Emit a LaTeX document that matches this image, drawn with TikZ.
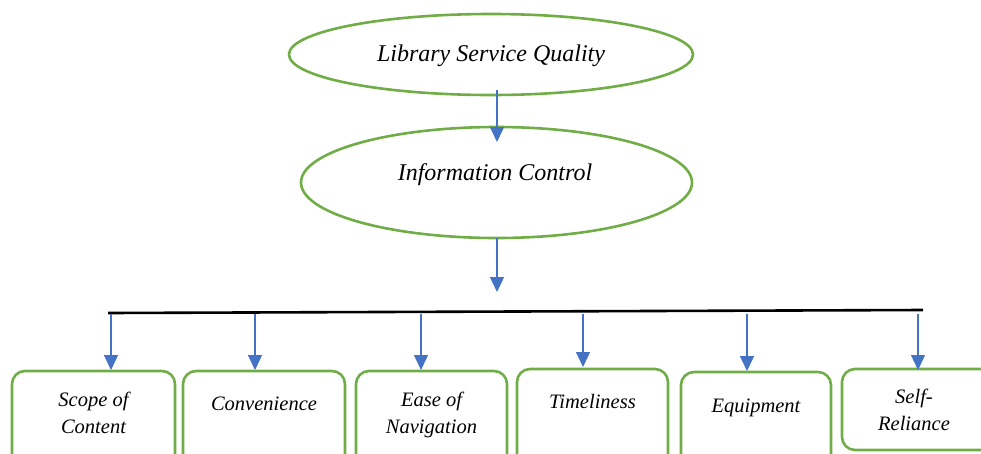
\documentclass[tikz,border=0pt]{standalone}
\usepackage{fontspec}
\setmainfont{Liberation Serif}
\usetikzlibrary{shapes.geometric,arrows.meta}
\definecolor{gframe}{RGB}{112,173,71}
\definecolor{barrow}{RGB}{68,114,196}
\begin{document}
\begin{tikzpicture}[x=1pt,y=-1pt,
  oval/.style={ellipse,draw=gframe,line width=2.6pt,inner sep=0pt},
  catbox/.style={draw=gframe,line width=2.6pt,rounded corners=13pt,inner sep=0pt},
  bigtxt/.style={anchor=base,font=\itshape\fontsize{24}{28}\selectfont},
  boxtxt/.style={anchor=base,align=center,font=\itshape\fontsize{20.5}{26.5}\selectfont},
  flow/.style={draw=barrow,line width=1.4pt,-{Triangle[width=14pt,length=15pt]}},
]
\useasboundingbox (0,0) rectangle (981,453);
\clip (0,0) rectangle (981,453);
% ellipses
\node[oval,minimum width=404pt,minimum height=81pt] (lsq) at (491,54.5) {};
\node[bigtxt] (lsqt) at (491,61) {Library Service Quality};
\node[oval,minimum width=391pt,minimum height=111pt] (ic) at (496.5,182.5) {};
\node[bigtxt] (ict) at (495,180) {Information Control};
% arrows between ellipses
\coordinate (a1s) at (497,90);
\coordinate (a1e) at (497,142);
\draw[flow] (a1s) -- (a1e);
\coordinate (a2s) at (497,238);
\coordinate (a2e) at (497,292);
\draw[flow] (a2s) -- (a2e);
% bar
\coordinate (barL) at (108,313);
\coordinate (barR) at (923,310);
\draw[line width=2.6pt,black] (barL) -- (barR);
% boxes (extend below frame)
\node[catbox,minimum width=163pt,minimum height=110pt] (b1) at (93.5,426) {};
\node[catbox,minimum width=162pt,minimum height=110pt] (b2) at (264,426) {};
\node[catbox,minimum width=151pt,minimum height=110pt] (b3) at (431.5,426) {};
\node[catbox,minimum width=151pt,minimum height=110pt] (b4) at (592.5,424) {};
\node[catbox,minimum width=150pt,minimum height=110pt] (b5) at (756,427) {};
\node[catbox,minimum width=160pt,minimum height=81pt] (b6) at (922,409.5) {};
% texts
\node[boxtxt] (t1) at (93.5,433) {Scope of\\Content};
\node[boxtxt] (t2) at (264,410) {Convenience};
\node[boxtxt] (t3) at (431.5,433) {Ease of\\Navigation};
\node[boxtxt] (t4) at (592.5,408) {Timeliness};
\node[boxtxt] (t5) at (756,412) {Equipment};
\node[boxtxt] (t6) at (914,430) {Self-\\Reliance};
% branch arrows
\foreach \n/\x/\yt in {1/111/370,2/255/370,3/421/370,4/583/367,5/747/371,6/918/370}{
  \coordinate (s\n) at (\x,314);
  \coordinate (e\n) at (\x,\yt);
  \draw[flow] (s\n) -- (e\n);
}
\end{tikzpicture}
\end{document}
